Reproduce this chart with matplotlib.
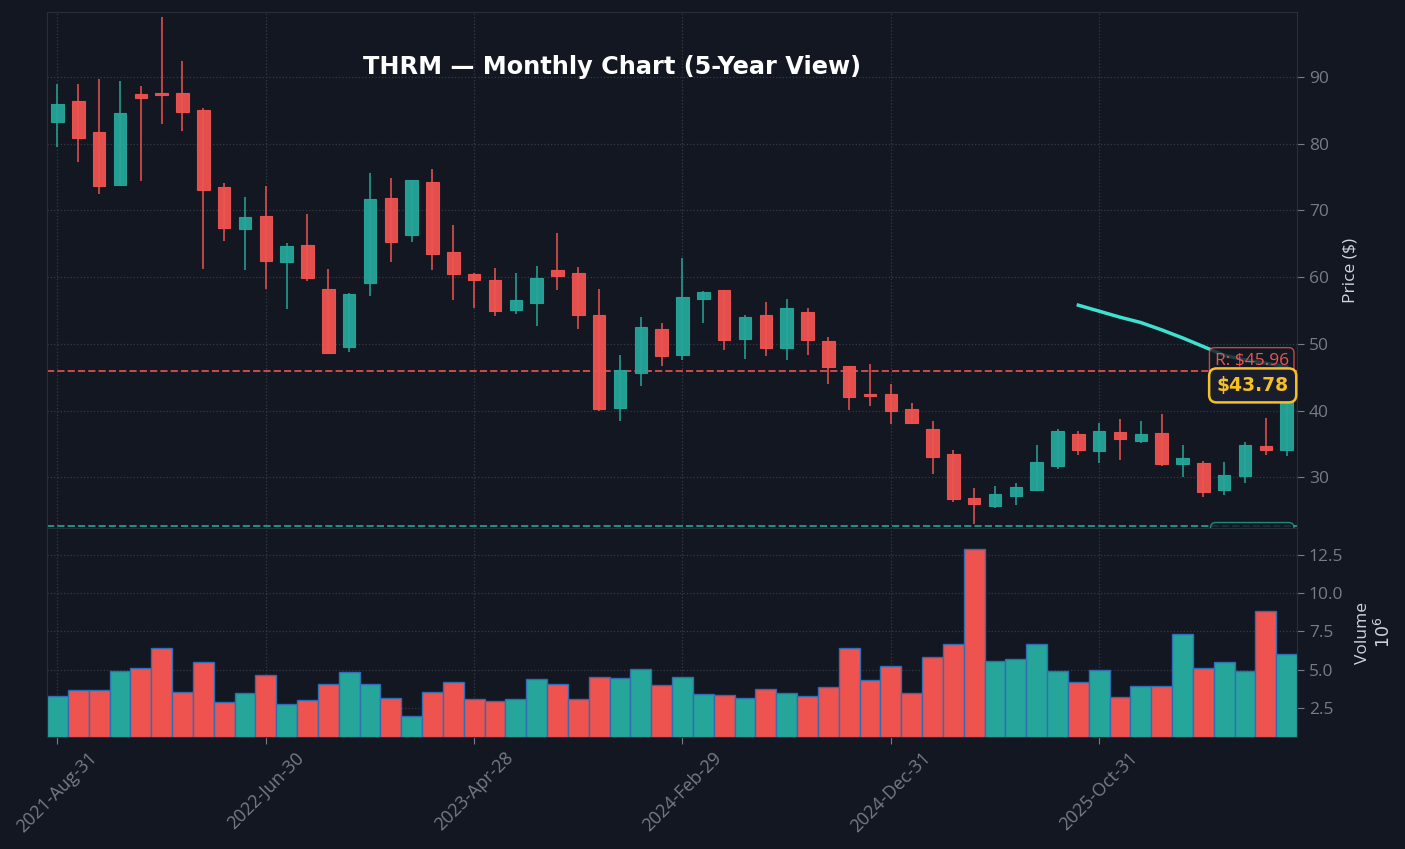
import matplotlib
matplotlib.use("Agg")
import matplotlib.pyplot as plt
import numpy as np

# monthly OHLC
opens = [83.3, 86.4, 81.75, 73.85, 87.45, 87.4, 87.6, 85.05, 73.55, 67.25,
         69.15, 62.3, 64.8, 58.25, 49.6, 59.15, 71.85, 66.35, 74.25, 63.75,
         60.45, 59.55, 55.1, 56.15, 61.05, 60.6, 54.3, 40.4, 45.65, 52.2,
         48.35, 56.75, 58.05, 50.75, 54.3, 49.4, 54.75, 50.4, 46.65, 42.35,
         42.45, 40.2, 37.2, 33.45, 26.85, 25.65, 27.2, 28.05, 31.7, 36.45,
         33.95, 36.75, 35.45, 36.6, 32.0, 32.1, 28.05, 30.2, 34.65, 34.1]
highs = [88.9, 89.0, 89.65, 89.45, 88.7, 98.95, 92.45, 85.4, 74.15, 72.05,
         73.65, 65.05, 69.4, 61.15, 57.7, 75.65, 74.8, 74.6, 76.15, 67.85,
         60.65, 61.4, 60.65, 61.7, 66.55, 61.55, 58.25, 48.4, 54.05, 53.15,
         62.9, 58.0, 58.1, 54.4, 56.3, 56.8, 55.45, 51.05, 46.7, 47.05,
         44.05, 41.15, 38.45, 34.15, 28.45, 28.75, 29.2, 34.9, 37.3, 37.0,
         38.15, 38.7, 38.5, 39.5, 34.9, 32.5, 32.3, 35.3, 38.95, 44.2]
lows = [79.45, 77.2, 72.45, 73.8, 74.4, 82.95, 81.9, 61.2, 65.4, 61.05,
        58.2, 55.2, 59.4, 48.45, 48.8, 57.15, 62.2, 65.25, 61.05, 56.55,
        55.35, 54.25, 54.55, 52.65, 58.05, 52.3, 39.9, 38.4, 43.65, 46.65,
        47.65, 53.2, 49.15, 47.8, 48.25, 47.55, 48.4, 44.05, 40.05, 40.75,
        38.05, 38.05, 30.45, 26.35, 23.05, 25.45, 25.9, 27.95, 31.2, 33.4,
        32.1, 32.65, 35.2, 31.65, 30.0, 27.1, 27.3, 29.15, 33.4, 33.15]
closes = [85.95, 80.9, 73.7, 84.6, 86.9, 87.3, 84.8, 73.05, 67.4, 69.0,
          62.45, 64.65, 59.9, 48.7, 57.5, 71.7, 65.3, 74.55, 63.5, 60.5,
          59.6, 54.95, 56.55, 59.85, 60.2, 54.35, 40.25, 46.05, 52.5, 48.2,
          57.0, 57.75, 50.55, 54.0, 49.4, 55.35, 50.55, 46.55, 42.05, 42.25,
          39.95, 38.15, 33.05, 26.75, 26.0, 27.45, 28.5, 32.25, 36.9, 34.1,
          36.9, 35.75, 36.45, 32.0, 32.85, 27.75, 30.3, 34.8, 34.1, 43.78]
volumes = [3.28, 3.65, 3.65, 4.91, 5.11, 6.41, 3.54, 5.5, 2.89, 3.48,
           4.65, 2.76, 3.02, 4.07, 4.85, 4.07, 3.15, 1.98, 3.54, 4.2,
           3.09, 2.96, 3.09, 4.39, 4.07, 3.09, 4.52, 4.46, 5.04, 4.0,
           4.52, 3.41, 3.35, 3.15, 3.72, 3.48, 3.28, 3.87, 6.41, 4.33,
           5.24, 3.48, 5.83, 6.67, 12.87, 5.57, 5.7, 6.67, 4.91, 4.2,
           4.98, 3.22, 3.93, 3.93, 7.33, 5.11, 5.5, 4.91, 8.83, 6.02]  # millions

ma_start = 49
ma_values = [55.8, 54.9, 54.0, 53.2, 52.1, 50.9, 49.6, 48.3, 47.6, 47.1, 46.6]

resistance = 45.96
support = 22.75
last_price = 43.78

tick_pos = [0, 10, 20, 30, 40, 50]
tick_labels = ["2021-Aug-31", "2022-Jun-30", "2023-Apr-28",
               "2024-Feb-29", "2024-Dec-31", "2025-Oct-31"]

BG = "#131722"
UP = "#26a69a"
DOWN = "#ef5350"
GRID = "#2a2e39"
TXT = "#787b86"

plt.rcParams["font.family"] = ["Open Sans", "DejaVu Sans"]

fig = plt.figure(figsize=(14.05, 8.49), dpi=100, facecolor=BG)
ax = fig.add_axes([0.0335, 0.378, 0.8897, 0.608])
axv = fig.add_axes([0.0335, 0.132, 0.8897, 0.246], sharex=ax)

x = np.arange(len(opens))
up = np.array(closes) >= np.array(opens)
colors = [UP if u else DOWN for u in up]

for a in (ax, axv):
    a.set_facecolor(BG)
    for s in a.spines.values():
        s.set_color(GRID)
    a.yaxis.tick_right()
    a.yaxis.set_label_position("right")
    a.tick_params(colors=TXT, labelsize=12.5, length=5)
    a.grid(True, linestyle=":", color="#363a45", linewidth=0.9)
    a.set_axisbelow(True)

# candles
for i in x:
    c = colors[i]
    ax.vlines(i, lows[i], highs[i], color=c, linewidth=1.1, zorder=2)
    bot = min(opens[i], closes[i])
    h = max(abs(closes[i] - opens[i]), 0.25)
    ax.bar(i, h, bottom=bot, width=0.6, color=c, edgecolor=c,
           linewidth=0.8, alpha=0.95, zorder=3)

ax.plot(np.arange(ma_start, ma_start + len(ma_values)), ma_values,
        color="#3ee0cf", linewidth=2.5, zorder=4)

ax.axhline(resistance, color=DOWN, linestyle="--", linewidth=1.4, alpha=0.85, zorder=1)
ax.axhline(support, color=UP, linestyle="--", linewidth=1.4, alpha=0.85, zorder=1)
ax.text(59.1, resistance + 0.3, f"R: ${resistance:.2f}", color=DOWN, fontsize=12.5,
        ha="right", va="bottom", zorder=5,
        bbox=dict(boxstyle="round,pad=0.3", fc=BG, ec=DOWN, alpha=0.8))
ax.text(59.1, support - 0.3, f"S: ${support:.2f}", color=UP, fontsize=12.5,
        ha="right", va="top", zorder=5, clip_on=True,
        bbox=dict(boxstyle="round,pad=0.3", fc=BG, ec=UP, alpha=0.8))
ax.text(59.1, last_price, f"${last_price:.2f}", color="#f5c026", fontsize=13.5,
        fontweight="bold", family="DejaVu Sans", ha="right", va="center", zorder=6,
        bbox=dict(boxstyle="round,pad=0.4", fc="#1a1d2b", ec="#f5c026", linewidth=1.8))

ax.set_xlim(-0.5, 59.5)
ax.set_ylim(22.4, 99.75)
ax.set_yticks([30, 40, 50, 60, 70, 80, 90])
ax.set_ylabel("Price ($)", color="#d1d4dc", fontsize=12.5, labelpad=10)
ax.tick_params(axis="x", labelbottom=False, length=0)

# volume
axv.bar(x, volumes, width=1.0, color=colors, edgecolor="#2f6db5", linewidth=1.0, zorder=2)
axv.set_ylim(0.6, 14.26)
axv.set_yticks([2.5, 5.0, 7.5, 10.0, 12.5])
axv.set_yticklabels(["2.5", "5.0", "7.5", "10.0", "12.5"])
axv.set_ylabel("Volume\n$10^6$", color="#d1d4dc", fontsize=12.5, labelpad=8)
axv.set_xticks(tick_pos)
axv.set_xticklabels(tick_labels, rotation=45, ha="center", fontsize=13)

fig.text(0.4356, 0.921, "THRM — Monthly Chart (5-Year View)", color="white",
         fontsize=17.3, fontweight="bold", family="DejaVu Sans", ha="center", va="center")

fig.savefig("out.png", dpi=100, facecolor=BG)
